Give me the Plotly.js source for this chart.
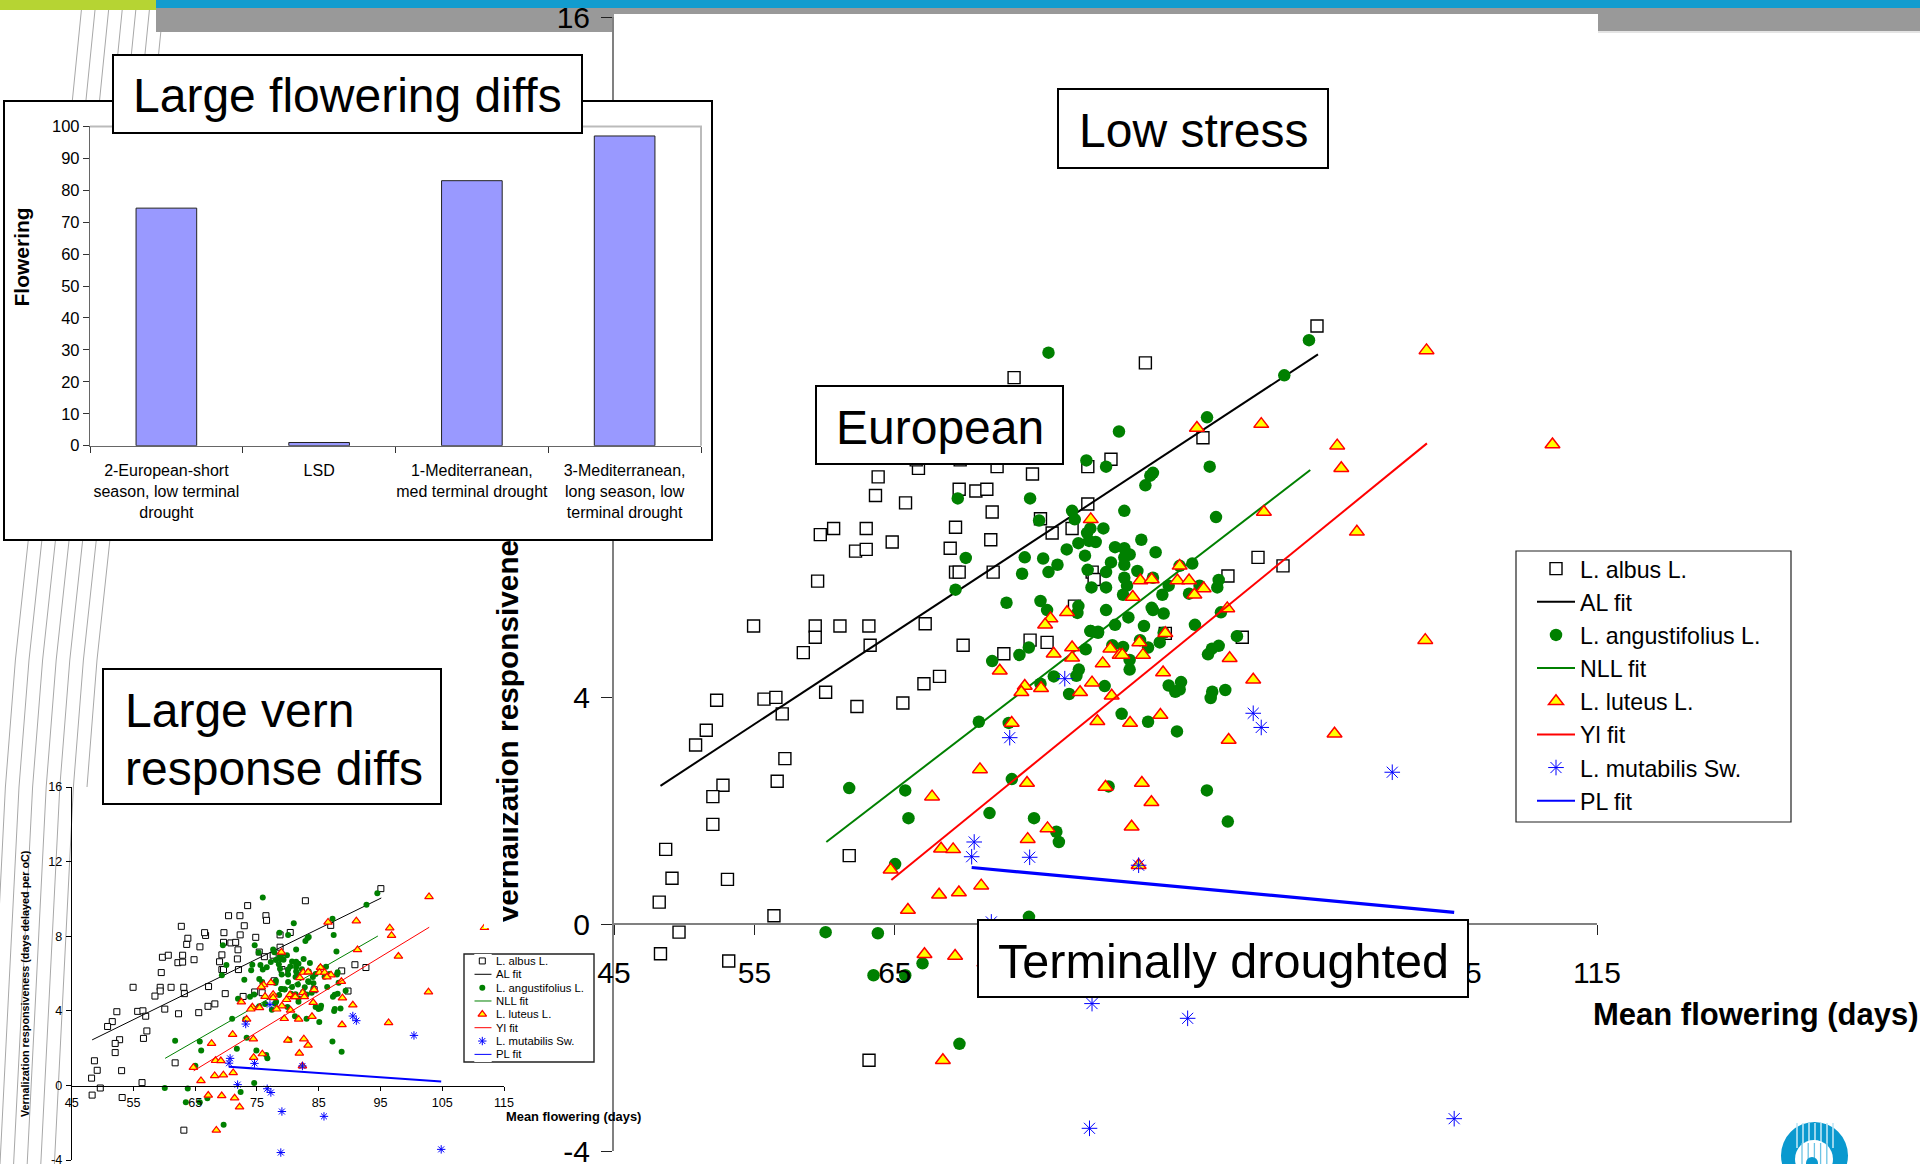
<!DOCTYPE html>
<html><head><meta charset="utf-8">
<script src="https://cdn.plot.ly/plotly-3.0.1.min.js"></script>
<style>html,body{margin:0;padding:0;background:#fff}#c{width:1920px;height:1164px}</style>
</head><body><div id="c"></div>
<script>
// ---- bar chart ----
const barCategories = ['2-European-short<br>season, low terminal<br>drought','LSD','1-Mediterranean,<br>med terminal drought','3-Mediterranean,<br>long season, low<br>terminal drought'];
const barValues = [74.4,1,83,97];
// ---- scatter data (mean flowering days, vernalization responsiveness) ----
const albusX = [73.49,63.81,66.68,72.28,74.8,78.74,63.62,65.76,69.58,70.77,71.55,71.93,75.37,78.74,59.69,60.64,62.96,69.32,76.2,77.62,62.2,62.96,64.81,68.94,71.83,59.5,69.32,69.58,72.0,79.05,79.19,54.94,59.33,59.33,61.09,63.15,58.48,67.16,63.24,69.86,74.63,75.84,77.79,72.76,52.31,55.68,56.53,60.07,56.98,68.18,67.07,62.3,65.57,51.57,50.81,57.17,56.62,52.76,52.04,52.04,48.68,61.75,49.13,53.08,48.22,56.39,49.63,48.31,53.17,63.16,82.84,95.06,86.94,80.39,90.86,92.64,88.72,89.74,84.26,70.4,72.24,76.45,76.55,62.75,72.94,66.52,69.65];
const albusY = [9.64,7.89,8.04,8.07,7.94,8.07,7.56,7.43,7.67,7.64,7.67,7.27,7.15,7.41,6.87,6.98,6.98,7.0,6.9,6.98,6.58,6.61,6.74,6.63,6.78,6.05,6.21,6.21,6.21,6.21,6.08,5.26,5.26,5.06,5.26,5.26,4.79,5.3,4.92,4.92,5.01,4.97,5.61,4.77,3.95,3.97,4.0,4.09,3.71,4.37,4.24,3.84,3.9,3.42,3.16,2.92,2.52,2.45,2.25,1.76,1.32,1.21,0.81,0.79,0.39,0.15,-0.14,-0.52,-0.65,-2.4,9.9,10.55,8.58,8.2,6.47,6.32,6.14,5.06,5.13,9.1,9.1,9.1,8.85,8.53,8.56,8.19,8.19];
const alFitX = [48.31,95.13];
const alFitY = [2.44,10.05];
const angustX = [75.94,78.64,69.48,74.63,77.62,77.81,75.27,70.05,77.24,74.25,75.56,76.58,74.06,75.94,69.32,72.95,75.37,75.84,78.07,78.0,78.95,79.47,78.59,74.54,73.87,71.93,78.1,77.93,76.32,75.37,77.41,70.98,73.11,87.23,80.96,80.04,83.38,83.19,82.84,87.42,81.34,87.87,92.73,94.49,78.92,79.85,78.07,78.83,79.3,78.69,82.55,80.68,81.34,81.72,81.34,78.54,83.57,80.39,81.34,78.73,80.04,82.27,81.34,83.38,79.0,80.04,81.53,81.25,84.5,84.05,86.18,85.28,86.7,85.95,88.06,87.96,80.04,83.29,83.38,84.14,81.63,88.22,80.68,82.74,86.37,78.92,79.47,84.14,89.36,82.46,83.86,80.49,81.25,83.03,88.06,87.58,87.3,81.72,81.72,85.38,84.5,85.28,84.97,79.94,87.6,87.49,88.53,81.15,83.03,85.09,61.75,65.74,73.33,80.22,87.22,65.97,71.74,74.91,88.71,76.5,76.68,65.02,74.55,60.07,63.79,66.97,63.48,65.74,69.6,72.35];
const angustY = [10.08,8.18,7.51,7.51,7.29,7.14,7.12,6.46,6.61,6.47,6.45,6.34,6.18,6.21,5.9,5.67,5.7,5.54,5.61,5.49,5.17,5.16,4.85,4.88,4.75,4.64,4.49,4.38,4.37,4.24,4.06,3.57,3.55,8.94,8.69,8.07,7.96,7.91,7.74,8.07,7.29,7.18,9.68,10.3,6.98,6.98,6.72,6.76,6.74,6.9,6.78,6.65,6.63,6.52,6.47,6.5,6.56,6.38,6.34,6.25,6.21,6.23,6.11,6.11,5.94,5.94,5.97,5.81,5.97,5.81,6.36,6.32,5.97,5.83,6.07,5.94,5.54,5.58,5.54,5.48,5.41,5.5,5.28,5.26,5.28,5.17,5.14,5.14,5.08,5.01,4.97,4.92,4.89,4.88,4.91,4.86,4.76,4.66,4.49,4.27,4.21,4.14,4.1,4.2,4.1,3.99,4.13,3.71,3.57,3.4,2.4,2.36,2.56,2.43,2.36,1.87,1.96,1.87,1.81,1.63,1.45,1.06,0.13,-0.14,-0.16,-0.69,-0.9,-0.9,-2.11,-0.36];
const nllFitX = [60.12,94.58];
const nllFitY = [1.45,8.01];
const luteusX = [102.86,91.09,86.51,96.5,96.79,91.28,97.9,78.95,85.28,82.48,83.29,85.12,85.95,86.99,86.33,81.94,88.67,77.26,76.08,75.7,84.26,102.77,82.41,77.62,80.35,76.31,77.62,81.01,81.2,82.67,88.84,79.8,84.1,72.47,79.04,90.52,74.25,74.01,75.41,78.19,80.44,83.91,73.32,79.42,81.75,96.31,88.77,71.06,74.41,67.65,80,82.59,83.27,75.87,81.86,74.46,68.29,69.15,64.7,82.36,71.15,69.56,68.15,65.93,67.11,69.29,68.42,71.38,72.18,111.83];
const luteusY = [10.12,8.82,8.75,8.44,8.04,7.27,6.92,7.14,6.32,6.06,6.08,6.06,6.06,5.92,5.81,5.77,5.57,5.5,5.39,5.28,5.13,5.01,4.97,4.88,4.86,4.77,4.7,4.75,4.75,4.75,4.69,4.6,4.44,4.47,4.26,4.31,4.2,4.09,4.16,4.09,4.03,3.69,3.55,3.58,3.55,3.36,3.25,2.73,2.49,2.25,2.42,2.49,2.15,1.69,1.72,1.5,1.33,1.32,0.96,1.04,0.68,0.56,0.52,0.25,-0.53,-0.56,-2.4,-0.68,-1.16,8.46];
const ylFitX = [64.75,102.89];
const ylFitY = [0.78,8.48];
const mutabX = [77.1,73.18,90.52,91.09,100.42,70.65,70.47,74.6,82.36,71.87,79.04,85.85,78.86,104.83,76.66,77.25];
const mutabY = [4.33,3.29,3.72,3.47,2.68,1.45,1.19,1.18,1.04,0.04,-1.4,-1.66,-3.6,-3.43,-0.18,-0.38];
const plFitX = [70.47,104.83];
const plFitY = [1.0,0.21];
const legendNames = ['L. albus L.','AL fit','L. angustifolius L.','NLL fit','L. luteus L.','Yl fit','L. mutabilis Sw.','PL fit'];
const xTickVals = [45,55,65,75,85,95,105,115];
const yTickVals = [-4,0,4,8,12,16];
const yTickText = ['-4','0','4','8','12','16'];

const W=1920,H=1164,FONT='"Liberation Sans", Arial, sans-serif';
const fx=p=>p/W, fy=p=>1-p/H;
const dx=(a,b)=>[fx(a),fx(b)], dy=(top,bot)=>[fy(bot),fy(top)];

const seriesX=[albusX,alFitX,angustX,nllFitX,luteusX,ylFitX,mutabX,plFitX];
const seriesY=[albusY,alFitY,angustY,nllFitY,luteusY,ylFitY,mutabY,plFitY];
function styleFor(i,big){
  const lw=big?[0,2,0,2,0,2,0,3.2]:[0,1,0,1,0,1,0,2];
  if(i%2===1){const c=['#000000','#008000','#ff0000','#0000ff'][(i-1)/2];return {mode:'lines',line:{color:c,width:lw[i]}};}
  if(i===0) return {mode:'markers',marker:{symbol:'square',size:big?12:6,color:'rgba(255,255,255,1)',line:{color:'#000',width:big?1.4:1}}};
  if(i===2) return {mode:'markers',marker:{symbol:'circle',size:big?12.5:6,color:'#008000',line:{width:0}}};
  if(i===4) return {mode:'markers',marker:{symbol:'triangle-up',size:big?13:7.5,color:'#ffff00',line:{color:'#ff0000',width:big?1.5:1.2}}};
  return {mode:'markers',marker:{symbol:'asterisk-open',size:big?13:7,color:'#0000ff',line:{color:'#0000ff',width:1}}};
}
const traces=[];
// big chart
legendNames.forEach((n,i)=>traces.push(Object.assign({type:'scatter',x:seriesX[i],y:seriesY[i],name:n,xaxis:'x',yaxis:'y',hoverinfo:'skip',cliponaxis:false,showlegend:i!==7},styleFor(i,true))));
// the PL fit legend key is thinner than its line on the chart
traces.push({type:'scatter',mode:'lines',x:[null],y:[null],name:legendNames[7],xaxis:'x',yaxis:'y',line:{color:'#0000ff',width:2},hoverinfo:'skip',showlegend:true});
// small chart
legendNames.forEach((n,i)=>traces.push(Object.assign({type:'scatter',x:seriesX[i],y:seriesY[i],name:n,xaxis:'x2',yaxis:'y2',hoverinfo:'skip',cliponaxis:false,showlegend:false},styleFor(i,false))));
// white panel behind the bar chart
traces.push({type:'scatter',x:[0.5],y:[0.5],mode:'none',xaxis:'x3',yaxis:'y3',showlegend:false,hoverinfo:'skip'});
// bar chart
traces.push({type:'bar',x:barCategories,y:barValues,xaxis:'x4',yaxis:'y4',width:0.397,marker:{color:'#9999ff',line:{color:'#222',width:1}},showlegend:false,hoverinfo:'skip'});
// keys of the small legend
legendNames.forEach((n,i)=>{
  const st=styleFor(i,false);
  if(i===7) st.line.width=1;
  traces.push(Object.assign({type:'scatter',name:n,x:i%2?[0,1]:[0.46],y:i%2?[i,i]:[i],xaxis:'x5',yaxis:'y5',showlegend:false,hoverinfo:'skip',cliponaxis:false},st));
});

function label(text,x,y,size,opts){
  return Object.assign({xref:'paper',yref:'paper',x:fx(x),y:fy(y),showarrow:false,text:text,font:{family:FONT,size:size,color:'#000'},borderpad:0},opts||{});
}
function frame(x0,y0,x1,y1){
  return {xref:'paper',yref:'paper',x:fx((x0+x1)/2),y:fy((y0+y1)/2),xanchor:'center',yanchor:'middle',showarrow:false,text:' ',
    font:{family:FONT,size:12},bgcolor:'#fff',bordercolor:'#000',borderwidth:2,borderpad:0,width:x1-x0-4,height:y1-y0-4};
}
function box(text,x0,y0,x1,y1,size){
  return [frame(x0,y0,x1,y1),label(text,(x0+x1)/2,(y0+y1)/2+2,size,{xanchor:'center',yanchor:'middle'})];
}
const annotations=[
  // big-chart axis titles
  label('<b>Vernalization responsivene</b>',507,925,29.8,{textangle:-90,xanchor:'center',yanchor:'bottom'}),
  // the lower part of that title is cropped on one side in the slide
  {xref:'paper',yref:'paper',x:fx(494),y:fy(857.5),xanchor:'center',yanchor:'middle',showarrow:false,text:' ',bgcolor:'#fff',width:19,height:141,borderpad:0,borderwidth:0},
  label('<b>Mean flowering (days)</b>',1592,1014.5,31,{xanchor:'left',yanchor:'middle'}),
  // small-chart axis titles
  label('<b>Vernalization responsiveness (days delayed per oC)</b>',25,984,10.8,{textangle:-90,xanchor:'center',yanchor:'middle'}),
  label('<b>Mean flowering (days)</b>',505,1116,12.9,{xanchor:'left',yanchor:'middle'}),
  // bar-chart y title
  label('<b>Flowering</b>',20.5,257,21,{textangle:-90,xanchor:'center',yanchor:'middle'}),
  // slide call-outs
  ...box('Large flowering diffs',112.5,54,583,133.6,48),
  ...box('Low stress',1057,88,1329,169,48),
  ...box('European',815,385,1064,465,48),
  ...box('Terminally droughted',977.5,919,1469,998,48.6),
  frame(102,668,442,805),
  label('Large vern',124,710,48,{xanchor:'left',yanchor:'middle'}),
  label('response diffs',124,768,48,{xanchor:'left',yanchor:'middle'}),
];
// small legend labels
const smallRows=[961,974.3,987.7,1000.7,1014.3,1027.7,1041,1053.7];
legendNames.forEach((n,i)=>annotations.push(label(n,494.7,smallRows[i],11.3,{xanchor:'left',yanchor:'middle'})));

const shapes=[];
function rect(x0,y0,x1,y1,fill,line){shapes.push({type:'rect',xref:'paper',yref:'paper',x0:fx(x0),x1:fx(x1),y0:fy(y0),y1:fy(y1),fillcolor:fill,line:line||{width:0},layer:'below'});}
// decorative diagonal lines of the slide template
for(let k=0;k<7;k++){
  const off=(6-k)*13.6;
  const startY=k<6?10:32;
  const startX=164-startY*0.1;
  const top=`M${fx(startX-off)},${fy(startY)} L${fx(153.8-off)},${fy(102)}`;
  let low=`M${fx(110-off)},${fy(539)} L${fx(97-off)},${fy(660)} L${fx(87-off)},${fy(787)}`;
  if(k<6) low+=` L${fx(68-off)},${fy(1164)}`;
  shapes.push({type:'path',xref:'paper',yref:'paper',path:top+' '+low,line:{color:'#a8a8a8',width:1},layer:'below'});
}
// header bands
rect(156,8,614,32,'#999999');
rect(614,8,1598,14,'#999999');
rect(1598,8,1920,31,'#999999');
rect(1598,31,1920,33,'#e4e4e4');
rect(156,0,1920,8,'#129ccf');
rect(0,0,156,10,'#b6d433');
// big legend frame and small legend frame
rect(1516,551,1791,822,'#ffffff',{color:'#222',width:1.2});
rect(464,954,594,1062,'#ffffff',{color:'#222',width:1.4});
// logo
function circ(x0,y0,x1,y1,c){shapes.push({type:'circle',xref:'paper',yref:'paper',x0:fx(x0),x1:fx(x1),y0:fy(y0),y1:fy(y1),fillcolor:c,line:{width:0},layer:'below'});}
function vline(x,y0,y1,c,w){shapes.push({type:'line',xref:'paper',yref:'paper',x0:fx(x),x1:fx(x),y0:fy(y0),y1:fy(y1),line:{color:c,width:w},layer:'below'});}
circ(1781,1122,1848,1189,'#0a99cf');
for(let i=0;i<7;i++) vline(1797+i*6,1123,1148,'#bfe6f5',1.6);
circ(1795,1140,1833,1178,'#ffffff');
for(let i=0;i<5;i++) vline(1802+i*6.2,1143,1164,'#6cc3e4',1.3);
circ(1806,1157,1818,1169,'#0a99cf');
// bar chart light frame
shapes.push({type:'path',xref:'x4 domain',yref:'y4 domain',path:'M0,1 L1,1 L1,0',line:{color:'#bbbbbb',width:2},layer:'above'});

const bigTick={family:FONT,size:30,color:'#000'};
const smallTick={family:FONT,size:12.6,color:'#000'};
const layout={
  width:W,height:H,autosize:false,margin:{l:0,r:0,t:0,b:0,pad:0},paper_bgcolor:'#ffffff',plot_bgcolor:'#ffffff',
  font:{family:FONT},
  xaxis:{domain:dx(614,1597),range:[45,115],anchor:'free',position:fy(924),tickmode:'array',tickvals:xTickVals,ticks:'outside',ticklen:10,tickwidth:1,tickcolor:'#222',
    showline:true,linecolor:'#808080',linewidth:2,showgrid:false,zeroline:false,tickfont:bigTick,ticklabelstandoff:12},
  yaxis:{domain:dy(17,1151),range:[-4,16],anchor:'x',tickmode:'array',tickvals:yTickVals,ticktext:yTickText,ticks:'outside',ticklen:11,tickwidth:1,tickcolor:'#222',
    showline:true,linecolor:'#808080',linewidth:2,showgrid:false,zeroline:false,tickfont:bigTick,ticklabelstandoff:5,ticklabeloverflow:'allow'},
  xaxis2:{domain:dx(71.7,504),range:[45,115],anchor:'free',position:fy(1085.7),tickmode:'array',tickvals:xTickVals,ticks:'outside',ticklen:4,tickwidth:1,tickcolor:'#000',
    showline:true,linecolor:'#000',linewidth:1,showgrid:false,zeroline:false,tickfont:smallTick,ticklabelstandoff:1},
  yaxis2:{domain:dy(787,1160),range:[-4,16],anchor:'x2',tickmode:'array',tickvals:yTickVals,ticktext:yTickText,ticks:'outside',ticklen:5,tickwidth:1,tickcolor:'#000',
    showline:true,linecolor:'#000',linewidth:1,showgrid:false,zeroline:false,tickfont:smallTick,ticklabelstandoff:1,ticklabeloverflow:'allow'},
  xaxis3:{domain:dx(5,711),range:[0,1],anchor:'y3',showline:true,mirror:true,linecolor:'#000',linewidth:2,showticklabels:false,ticks:'',showgrid:false,zeroline:false},
  yaxis3:{domain:dy(102,539),range:[0,1],anchor:'x3',showline:true,mirror:true,linecolor:'#000',linewidth:2,showticklabels:false,ticks:'',showgrid:false,zeroline:false},
  xaxis4:{domain:dx(90,701),type:'category',categoryorder:'array',categoryarray:barCategories,range:[-0.5,3.5],anchor:'y4',ticks:'outside',tickson:'boundaries',ticklen:6,tickwidth:1,tickcolor:'#333',
    showline:true,linecolor:'#666',linewidth:1.2,showgrid:false,zeroline:false,tickangle:0,tickfont:{family:FONT,size:16,color:'#000'},ticklabelstandoff:10},
  yaxis4:{domain:dy(126.4,445.7),range:[0,100],dtick:10,tick0:0,anchor:'x4',ticks:'outside',ticklen:6,tickwidth:1,tickcolor:'#333',
    showline:true,linecolor:'#666',linewidth:1.2,showgrid:false,zeroline:false,tickfont:{family:FONT,size:16.5,color:'#000'}},
  xaxis5:{domain:dx(474.3,491.7),range:[0,1],anchor:'y5',visible:false},
  yaxis5:{domain:dy(954,1062),range:[7.57,-0.52],anchor:'x5',visible:false},
  showlegend:true,
  legend:{x:fx(1532),y:fy(547),xanchor:'left',yanchor:'top',bgcolor:'rgba(0,0,0,0)',borderwidth:0,itemwidth:38,font:{family:FONT,size:23.2,color:'#000'},traceorder:'normal',itemclick:false,itemdoubleclick:false},
  annotations:annotations,shapes:shapes
};
Plotly.newPlot('c',traces,layout,{displayModeBar:false,staticPlot:true});
</script></body></html>
